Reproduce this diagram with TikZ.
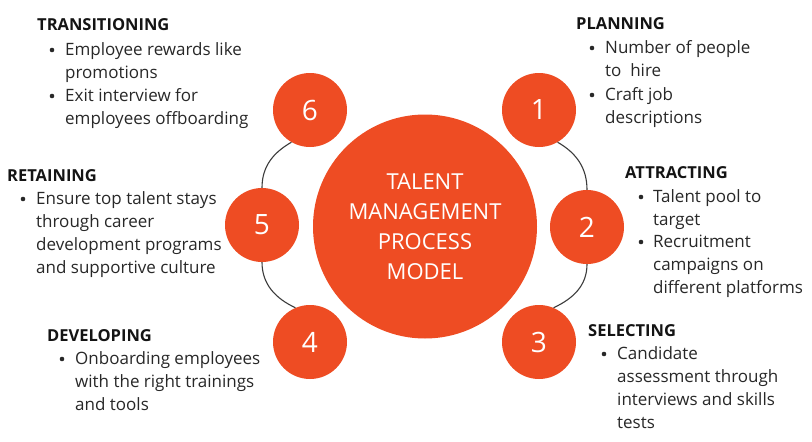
\documentclass[tikz,border=0pt]{standalone}
\usepackage{fontspec}
\setmainfont{Open Sans}
\definecolor{torange}{RGB}{238,76,35}
\definecolor{ttext}{RGB}{40,40,40}
\definecolor{thead}{RGB}{20,20,20}
\definecolor{tline}{RGB}{60,60,60}
\begin{document}
\begin{tikzpicture}[x=1pt,y=-1pt,
  big/.style={circle, fill=torange, minimum size=224pt, inner sep=0pt, text=white, align=center, font=\fontsize{22}{30}\selectfont},
  num/.style={circle, fill=torange, minimum size=74pt, inner sep=0pt, text=white, font=\fontsize{28}{30}\selectfont},
  head/.style={anchor=base west, inner sep=0pt, text=thead, font=\fontsize{16.5}{20}\selectfont\bfseries},
  body/.style={anchor=base west, inner sep=0pt, text=ttext, align=left, font=\fontsize{17}{23.3}\selectfont},
  bul/.style={circle, fill=ttext, minimum size=4.6pt, inner sep=0pt, yshift=5pt},
  link/.style={draw=tline, line width=1.1pt}
]
\useasboundingbox[fill=white] (0,0) rectangle (812,442);
% circles
\node[big] (center) at (425,226.5) {TALENT\\MANAGEMENT\\PROCESS\\MODEL};
\node[num] (c1) at (539,110) {1};
\node[num] (c2) at (587,227) {2};
\node[num] (c3) at (539,342) {3};
\node[num] (c4) at (310,342) {4};
\node[num] (c5) at (262,225) {5};
\node[num] (c6) at (310,110) {6};
% connectors
\draw[link] (c6.240) to[out=210,in=90] (c5.north);
\draw[link] (c5.south) to[out=-90,in=155] (c4.113);
\draw[link] (c1.-60) to[out=-30,in=90] (c2.north);
\draw[link] (c2.south) to[out=-90,in=25] (c3.67);
% 6 transitioning (body nodes are placed by the baseline of their last line)
\node[head] (h6) at (37,30) {TRANSITIONING};
\node[bul] (b6a) at (52,55) {};
\node[body] (t6a) at (65,78.3) {Employee rewards like\\promotions};
\node[bul] (b6b) at (52,101) {};
\node[body] (t6b) at (65,124.3) {Exit interview for\\employees offboarding};
% 1 planning
\node[head] (h1) at (576,29) {PLANNING};
\node[bul] (b1a) at (592,53) {};
\node[body] (t1a) at (605,76.3) {Number of people\\to\ \ hire};
\node[bul] (b1b) at (592,100) {};
\node[body] (t1b) at (605,123.3) {Craft job\\descriptions};
% 2 attracting
\node[head] (h2) at (625,178) {ATTRACTING};
\node[bul] (b2a) at (641,202) {};
\node[body] (t2a) at (653,225.3) {Talent pool to\\target};
\node[bul] (b2b) at (641,247) {};
\node[body] (t2b) at (653,293.6) {Recruitment\\campaigns on\\different platforms};
% 3 selecting
\node[head] (h3) at (588,336) {SELECTING};
\node[bul] (b3a) at (604,359) {};
\node[body] (t3a) at (617,428.9) {Candidate\\assessment through\\interviews and skills\\tests};
% 5 retaining
\node[head] (h5) at (7,181) {RETAINING};
\node[bul] (b5a) at (23,204) {};
\node[body] (t5a) at (36,273.9) {Ensure top talent stays\\through career\\development programs\\and supportive culture};
% 4 developing
\node[head] (h4) at (47,341) {DEVELOPING};
\node[bul] (b4a) at (62,364) {};
\node[body] (t4a) at (75,410.6) {Onboarding employees\\with the right trainings\\and tools};
\end{tikzpicture}
\end{document}
